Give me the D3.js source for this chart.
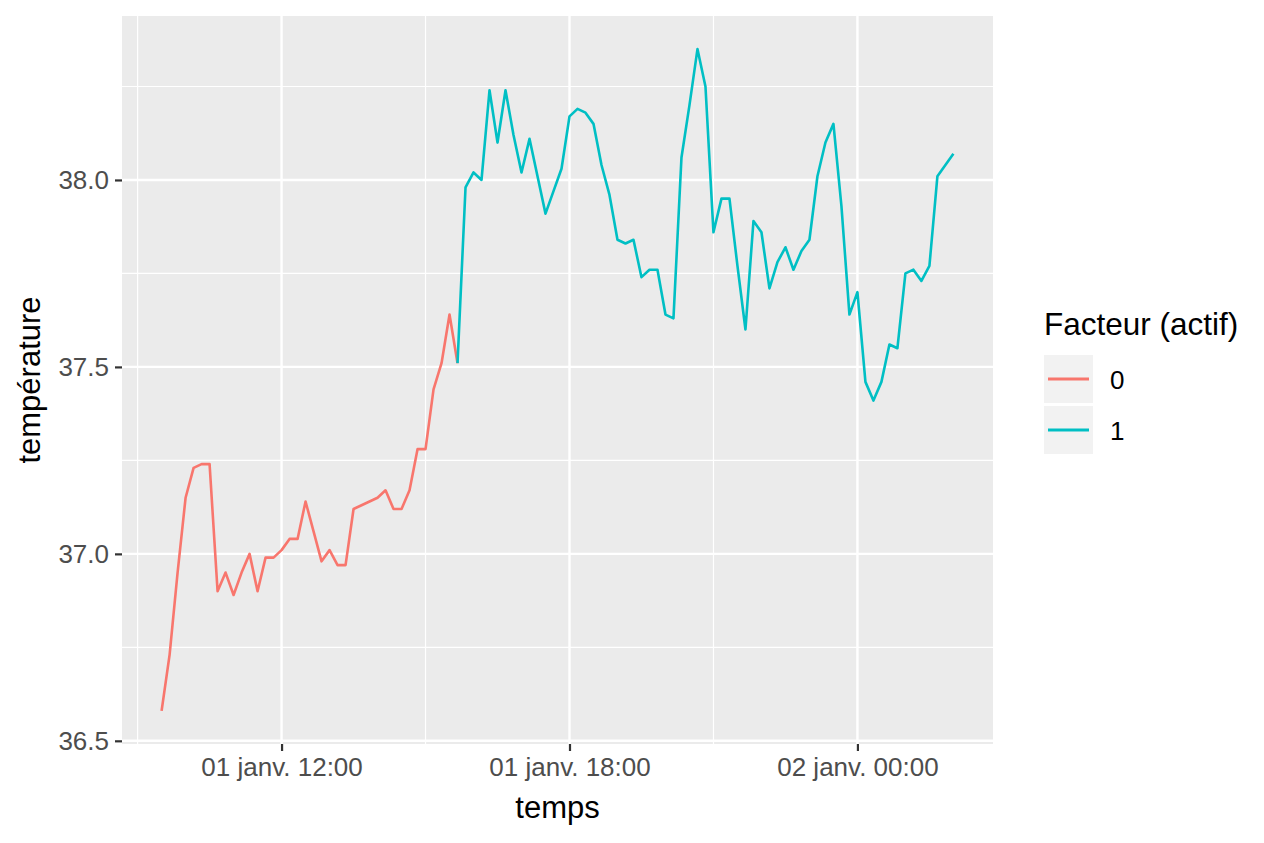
<!DOCTYPE html>
<html>
<head>
<meta charset="utf-8">
<script src="https://cdn.jsdelivr.net/npm/d3@7"></script>
<style>
  body { margin: 0; background: #fff; }
  text { font-family: "Liberation Sans", Arial, sans-serif; }
</style>
</head>
<body>
<svg id="chart" width="1264" height="843"></svg>
<script>
// readings every 10 minutes, 01 janv. 09:30 -> 02 janv. 02:00
const startTime = new Date(2020, 0, 1, 9, 30);
const endTime = new Date(2020, 0, 2, 2, 0);

const temperature = [
  36.58, 36.73, 36.95, 37.15, 37.23, 37.24, 37.24, 36.90, 36.95, 36.89,
  36.95, 37.00, 36.90, 36.99, 36.99, 37.01, 37.04, 37.04, 37.14, 37.06,
  36.98, 37.01, 36.97, 36.97, 37.12, 37.13, 37.14, 37.15, 37.17, 37.12,
  37.12, 37.17, 37.28, 37.28, 37.44, 37.51, 37.64, 37.51, 37.98, 38.02,
  38.00, 38.24, 38.10, 38.24, 38.12, 38.02, 38.11, 38.01, 37.91, 37.97,
  38.03, 38.17, 38.19, 38.18, 38.15, 38.04, 37.96, 37.84, 37.83, 37.84,
  37.74, 37.76, 37.76, 37.64, 37.63, 38.06, 38.20, 38.35, 38.25, 37.86,
  37.95, 37.95, 37.77, 37.60, 37.89, 37.86, 37.71, 37.78, 37.82, 37.76,
  37.81, 37.84, 38.01, 38.10, 38.15, 37.93, 37.64, 37.70, 37.46, 37.41,
  37.46, 37.56, 37.55, 37.75, 37.76, 37.73, 37.77, 38.01, 38.04, 38.07
];

const facteur = [
  0, 0, 0, 0, 0, 0, 0, 0, 0, 0,
  0, 0, 0, 0, 0, 0, 0, 0, 0, 0,
  0, 0, 0, 0, 0, 0, 0, 0, 0, 0,
  0, 0, 0, 0, 0, 0, 0, 1, 1, 1,
  1, 1, 1, 1, 1, 1, 1, 1, 1, 1,
  1, 1, 1, 1, 1, 1, 1, 1, 1, 1,
  1, 1, 1, 1, 1, 1, 1, 1, 1, 1,
  1, 1, 1, 1, 1, 1, 1, 1, 1, 1,
  1, 1, 1, 1, 1, 1, 1, 1, 1, 1,
  1, 1, 1, 1, 1, 1, 1, 1, 1, 1
];

const levels = ["0", "1"];
const yTicks = [36.5, 37.0, 37.5, 38.0];
const yMinor = [36.75, 37.25, 37.75, 38.25];

const times = d3.timeMinute.every(10).range(startTime, d3.timeMinute.offset(endTime, 1));
const data = times.map((t, i) => ({ t: t, v: temperature[i], f: String(facteur[i]) }));

const fr = d3.timeFormatLocale({
  dateTime: "%A %e %B %Y à %X", date: "%d/%m/%Y", time: "%H:%M:%S",
  periods: ["AM", "PM"],
  days: ["dimanche", "lundi", "mardi", "mercredi", "jeudi", "vendredi", "samedi"],
  shortDays: ["dim.", "lun.", "mar.", "mer.", "jeu.", "ven.", "sam."],
  months: ["janvier", "février", "mars", "avril", "mai", "juin", "juillet", "août", "septembre", "octobre", "novembre", "décembre"],
  shortMonths: ["janv.", "févr.", "mars", "avr.", "mai", "juin", "juil.", "août", "sept.", "oct.", "nov.", "déc."]
});
const fmt = fr.format("%d %b %H:%M");

const svg = d3.select("#chart");
const panel = { left: 122, right: 993, top: 16, bottom: 744 };

// ggplot-like 5% expansion
const tExt = d3.extent(data, d => d.t);
const tPad = (tExt[1] - tExt[0]) * 0.05;
const x = d3.scaleTime()
  .domain([new Date(+tExt[0] - tPad), new Date(+tExt[1] + tPad)])
  .range([panel.left, panel.right]);

const vExt = d3.extent(data, d => d.v);
const vPad = (vExt[1] - vExt[0]) * 0.05;
const y = d3.scaleLinear()
  .domain([vExt[0] - vPad, vExt[1] + vPad])
  .range([panel.bottom, panel.top]);

const colour = d3.scaleOrdinal().domain(levels).range(["#F8766D", "#00BFC4"]);

// panel background
svg.append("rect")
  .attr("x", panel.left).attr("y", panel.top)
  .attr("width", panel.right - panel.left)
  .attr("height", panel.bottom - panel.top)
  .attr("fill", "#EBEBEB");

const xMajor = x.ticks(d3.timeHour.every(6));
const xMinor = xMajor.map(d => d3.timeHour.offset(d, -3))
  .concat([d3.timeHour.offset(xMajor[xMajor.length - 1], 3)])
  .filter(d => d >= x.domain()[0] && d <= x.domain()[1]);

const grid = svg.append("g");
grid.selectAll(".ymin").data(yMinor).enter().append("line")
  .attr("x1", panel.left).attr("x2", panel.right)
  .attr("y1", d => y(d)).attr("y2", d => y(d))
  .attr("stroke", "#fff").attr("stroke-width", 1.2);
grid.selectAll(".xmin").data(xMinor).enter().append("line")
  .attr("y1", panel.top).attr("y2", panel.bottom)
  .attr("x1", d => x(d)).attr("x2", d => x(d))
  .attr("stroke", "#fff").attr("stroke-width", 1.2);
grid.selectAll(".ymaj").data(yTicks).enter().append("line")
  .attr("x1", panel.left).attr("x2", panel.right)
  .attr("y1", d => y(d)).attr("y2", d => y(d))
  .attr("stroke", "#fff").attr("stroke-width", 2.4);
grid.selectAll(".xmaj").data(xMajor).enter().append("line")
  .attr("y1", panel.top).attr("y2", panel.bottom)
  .attr("x1", d => x(d)).attr("x2", d => x(d))
  .attr("stroke", "#fff").attr("stroke-width", 2.4);

// segments take the colour of their starting point
const runs = [];
let cur = null;
data.forEach((d, i) => {
  if (!cur || cur.f !== d.f) {
    if (cur) cur.pts.push(d);
    cur = { f: d.f, pts: [] };
    runs.push(cur);
  }
  cur.pts.push(d);
});

const line = d3.line().x(d => x(d.t)).y(d => y(d.v));
svg.append("g").selectAll("path").data(runs).enter().append("path")
  .attr("d", r => line(r.pts))
  .attr("fill", "none")
  .attr("stroke", r => colour(r.f))
  .attr("stroke-width", 2.6)
  .attr("stroke-linejoin", "round");

// axes
const xAxis = svg.append("g")
  .attr("transform", `translate(0,${panel.bottom})`)
  .call(d3.axisBottom(x).tickValues(xMajor).tickFormat(fmt).tickSize(7).tickPadding(7));
const yAxis = svg.append("g")
  .attr("transform", `translate(${panel.left},0)`)
  .call(d3.axisLeft(y).tickValues(yTicks).tickFormat(d3.format(".1f")).tickSize(7).tickPadding(6));

[xAxis, yAxis].forEach(a => {
  a.select(".domain").remove();
  a.selectAll(".tick line").attr("stroke", "#333").attr("stroke-width", 2.2);
  a.selectAll(".tick text")
    .attr("fill", "#4d4d4d")
    .style("font-size", "26px")
    .style("font-family", "'Liberation Sans', Arial, sans-serif");
});

svg.append("text")
  .attr("x", (panel.left + panel.right) / 2).attr("y", 818)
  .attr("text-anchor", "middle")
  .style("font-size", "31px")
  .text("temps");

svg.append("text")
  .attr("transform", `translate(40,${(panel.top + panel.bottom) / 2}) rotate(-90)`)
  .attr("text-anchor", "middle")
  .style("font-size", "31px")
  .text("température");

// legend
const legend = svg.append("g").attr("transform", "translate(1044,0)");
legend.append("text")
  .attr("x", 0).attr("y", 335)
  .style("font-size", "31.5px")
  .text("Facteur (actif)");

const keys = legend.selectAll(".key").data(levels).enter().append("g")
  .attr("transform", (d, i) => `translate(0,${355 + i * 51})`);
keys.append("rect")
  .attr("width", 49).attr("height", 48)
  .attr("fill", "#F2F2F2");
keys.append("line")
  .attr("x1", 4).attr("x2", 45)
  .attr("y1", 24).attr("y2", 24)
  .attr("stroke", d => colour(d))
  .attr("stroke-width", 2.8);
keys.append("text")
  .attr("x", 66).attr("y", 34)
  .style("font-size", "26px")
  .attr("fill", "#000")
  .text(d => d);
</script>
</body>
</html>
